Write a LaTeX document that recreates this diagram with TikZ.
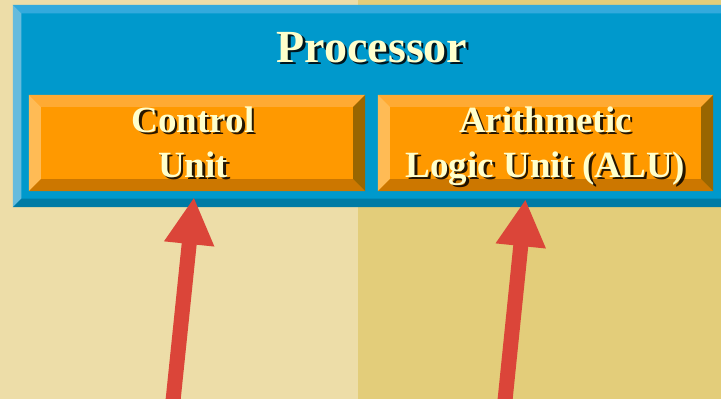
\documentclass[tikz,border=0pt]{standalone}
\usepackage{fontspec}
\setmainfont{Liberation Serif}
\usepackage{xcolor}
\usetikzlibrary{arrows.meta,calc}

\definecolor{paperleft}{HTML}{EDDDA8}
\definecolor{paperright}{HTML}{E3CD7A}
\definecolor{cpublue}{HTML}{0099CC}
\definecolor{cputop}{HTML}{33AADD}
\definecolor{cpuleft}{HTML}{66BBDD}
\definecolor{cpubottom}{HTML}{007BA5}
\definecolor{unitorange}{HTML}{FF9900}
\definecolor{unittop}{HTML}{FFAA33}
\definecolor{unitleft}{HTML}{FFBB55}
\definecolor{unitbottom}{HTML}{CC7700}
\definecolor{unitright}{HTML}{996600}
\definecolor{labelcream}{HTML}{FFFFCC}
\definecolor{arrowred}{HTML}{DB4539}

% bevelled edges of a box node: name, width, top, left, bottom, right
\newcommand\bevel[6]{%
  \fill[#3] (#1.north west) -- (#1.north east) -- ([shift={(-#2,#2)}]#1.north east) -- ([shift={(#2,#2)}]#1.north west) -- cycle;
  \fill[#4] (#1.north west) -- ([shift={(#2,#2)}]#1.north west) -- ([shift={(#2,-#2)}]#1.south west) -- (#1.south west) -- cycle;
  \fill[#5] (#1.south west) -- (#1.south east) -- ([shift={(-#2,-#2)}]#1.south east) -- ([shift={(#2,-#2)}]#1.south west) -- cycle;
  \fill[#6] (#1.north east) -- (#1.south east) -- ([shift={(-#2,-#2)}]#1.south east) -- ([shift={(-#2,#2)}]#1.north east) -- cycle;
}
% text with a dark drop shadow
\newcommand\shadowed[4]{%
  \node[#1,shade] at ([shift={(2.5,2.5)}]#2) {#4};
  \node[#1] (#3) at (#2) {#4};
}

\begin{document}
\begin{tikzpicture}[
  x=1pt,y=-1pt,
  cpubox/.style={fill=cpublue,minimum width=722pt,minimum height=202pt,inner sep=0pt},
  unitbox/.style={fill=unitorange,minimum width=336pt,minimum height=96pt,inner sep=0pt},
  lbl/.style={text=labelcream,font=\bfseries\fontsize{37}{45}\selectfont,align=center,inner sep=0pt},
  shade/.style={text=black,opacity=.85},
  arr/.style={-{Triangle[length=47pt,width=47pt]},line width=15pt,draw=arrowred}
]
\useasboundingbox (0,0) rectangle (721,399);
\clip (0,0) rectangle (721,399);
\fill[paperleft] (0,0) rectangle (358,399);
\fill[paperright] (358,0) rectangle (721,399);

% processor
\node[cpubox] (cpu) at (374,106) {};
\bevel{cpu}{8.5}{cputop}{cpuleft}{cpubottom}{cpublue}
\shadowed{lbl,font=\bfseries\fontsize{46}{50}\selectfont,anchor=base}{372,62}{title}{Processor}

% units
\node[unitbox] (cu) at (197,143) {};
\node[unitbox,minimum width=335pt] (alu) at (545.5,143) {};
\bevel{cu}{12}{unittop}{unitleft}{unitbottom}{unitright}
\bevel{alu}{12}{unittop}{unitleft}{unitbottom}{unitright}
\shadowed{lbl}{$(cu.center)+(-4,-1)$}{cutext}{Control\\Unit}
\shadowed{lbl}{$(alu.center)+(0,3)$}{alutext}{Arithmetic\\Logic Unit (ALU)}

% arrows
\coordinate (cufoot) at (170,430);
\coordinate (alufoot) at (502,430);
\draw[arr] (cufoot) -- ([shift={(-3,6)}]cu.south);
\draw[arr] (alufoot) -- ([shift={(-20,8)}]alu.south);
\end{tikzpicture}
\end{document}
